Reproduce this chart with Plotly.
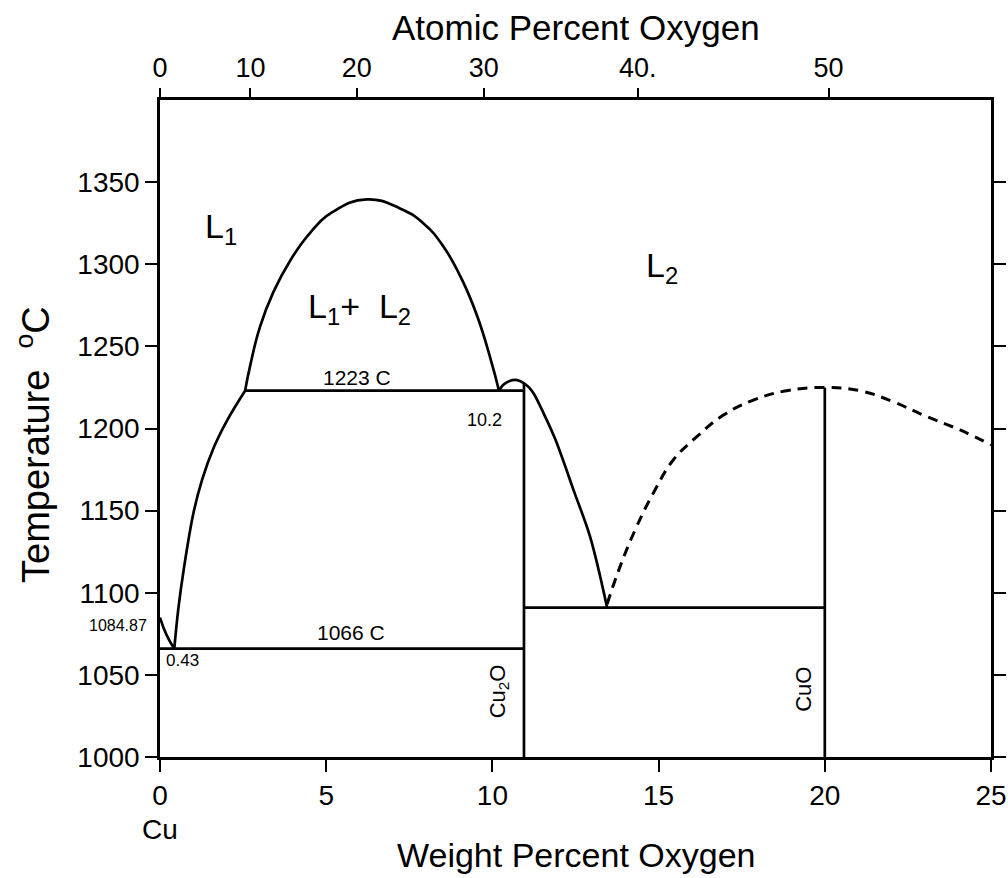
import plotly.graph_objects as go

# ---- Cu–O phase diagram data (weight % O, temperature in °C) ----
# Cu-rich liquidus from the melting point of Cu down to the eutectic
cu_liq_x = [0.0, 0.12, 0.28, 0.43]
cu_liq_t = [1084.87, 1078.0, 1071.0, 1066.0]

# L1 liquidus from the eutectic up to the monotectic
l1_liq_x = [0.43, 0.55, 0.72, 1.0, 1.27, 1.63, 2.02, 2.56]
l1_liq_t = [1066.0, 1090.0, 1115.0, 1148.0, 1169.0, 1189.0, 1205.0, 1223.0]

# L1 + L2 miscibility gap
dome_x = [2.56, 2.71, 3.01, 3.41, 3.91, 4.51, 5.21, 6.22, 7.22, 7.92, 8.52, 9.1, 9.55, 9.95, 10.2]
dome_t = [1223.0, 1238.0, 1262.0, 1283.0, 1302.0, 1319.0, 1332.0, 1339.5, 1334.0, 1325.0, 1311.0, 1290.0, 1268.0, 1242.0, 1223.0]

# Cu2O liquidus (small maximum, then down to the Cu2O–CuO eutectic)
cu2o_liq_x = [10.2, 10.32, 10.5, 10.75, 10.95, 11.1, 11.25, 11.5, 11.88, 12.45, 12.94, 13.45]
cu2o_liq_t = [1223.0, 1226.5, 1228.8, 1229.5, 1227.5, 1225.0, 1221.0, 1211.0, 1194.0, 1162.0, 1134.0, 1091.0]

# CuO liquidus (dashed, uncertain)
cuo_liq_x = [13.45, 13.84, 14.34, 14.84, 15.44, 16.15, 16.95, 17.85, 18.85, 20.0, 21.06, 22.06, 23.07, 24.07, 25.0]
cuo_liq_t = [1093.0, 1115.9, 1140.3, 1160.6, 1180.8, 1195.0, 1208.2, 1217.3, 1223.0, 1225.0, 1223.0, 1216.3, 1207.2, 1199.1, 1190.0]

# Invariant temperatures and compound compositions
t_eutectic = 1066.0
t_monotectic = 1223.0
t_oxide_eutectic = 1091.0
x_monotectic_left = 2.56
x_cu2o = 10.95
x_cuo = 20.0
t_cu2o_top = 1227.5
t_cuo_top = 1225.0
t_floor = 1000.0

# Axis ticks
x_ticks = [0, 5, 10, 15, 20, 25]
y_ticks = [1000, 1050, 1100, 1150, 1200, 1250, 1300, 1350]
at_pct_ticks = [0, 10, 20, 30, 40, 50]
at_pct_text = ["0", "10", "20", "30", "40.", "50"]

M_O, M_CU = 16.00, 63.546


def atomic_to_weight(a):
    return 100.0 * M_O * a / (M_O * a + M_CU * (100.0 - a))


top_tickvals = [atomic_to_weight(a) for a in at_pct_ticks]

BLACK = "#000000"
FONT = "Liberation Sans, Arial, sans-serif"
LW = 2.7

fig = go.Figure()


def add_line(xs, ys, dash=None, width=LW, shape="linear", smoothing=1.0):
    fig.add_trace(go.Scatter(
        x=xs, y=ys, mode="lines",
        line=dict(color=BLACK, width=width, dash=dash, shape=shape, smoothing=smoothing),
        hoverinfo="skip", showlegend=False,
    ))


add_line(cu_liq_x, cu_liq_t, shape="spline")
add_line(l1_liq_x, l1_liq_t, shape="spline")
add_line(dome_x, dome_t, shape="spline", smoothing=1.3)
add_line(cu2o_liq_x, cu2o_liq_t, shape="spline")
add_line(cuo_liq_x, cuo_liq_t, dash="10px,7px", width=3, shape="spline", smoothing=1.2)

# isotherms
add_line([0.0, x_cu2o], [t_eutectic, t_eutectic])
add_line([x_monotectic_left, x_cu2o], [t_monotectic, t_monotectic])
add_line([x_cu2o, x_cuo], [t_oxide_eutectic, t_oxide_eutectic])
# compound lines
add_line([x_cu2o, x_cu2o], [t_floor, t_cu2o_top])
add_line([x_cuo, x_cuo], [t_floor, t_cuo_top])

# invisible trace carrying the top (atomic %) axis
fig.add_trace(go.Scatter(x=[0, 25], y=[1000, 1000], xaxis="x2", mode="lines",
                         line=dict(width=0), hoverinfo="skip", showlegend=False))

axis_common = dict(showgrid=False, zeroline=False, showline=True, linecolor=BLACK,
                   linewidth=2.5, ticks="outside", ticklen=12, tickwidth=2.2,
                   tickcolor=BLACK, automargin=False)

fig.update_layout(
    width=1008, height=878,
    margin=dict(l=160, r=17, t=100, b=121),
    paper_bgcolor="white", plot_bgcolor="white",
    font=dict(family=FONT, color=BLACK),
    xaxis=dict(range=[0, 25], tickvals=x_ticks, ticktext=[str(v) for v in x_ticks],
               tickfont=dict(size=28, family=FONT), **axis_common),
    xaxis2=dict(range=[0, 25], overlaying="x", side="top", tickvals=top_tickvals,
                ticktext=at_pct_text, tickfont=dict(size=27, family=FONT),
                **{**axis_common, "ticklen": 9}),
    yaxis=dict(range=[1000, 1400], tickvals=y_ticks, ticktext=[str(v) for v in y_ticks],
               tickfont=dict(size=28, family=FONT), mirror="ticks", **axis_common),
)

ann = []


def label(text, x, y, size, xref="x", yref="y", angle=0, **kw):
    ann.append(dict(text=text, x=x, y=y, xref=xref, yref=yref, showarrow=False,
                    textangle=angle, font=dict(size=size, family=FONT, color=BLACK),
                    xanchor="center", yanchor="middle", **kw))


label("L<sub>1</sub>", 1.85, 1322, 34)
label("L<sub>1</sub>+  L<sub>2</sub>", 6.0, 1273, 34)
label("L<sub>2</sub>", 15.1, 1298, 34)
label("1223 C", 5.93, 1231, 21)
label("10.2", 9.75, 1205, 18)
label("1084.87", -0.051, 0.2, 16, xref="paper", yref="paper")
label("0.43", 0.68, 1059, 17)
label("1066 C", 5.75, 1076, 21)
label("Cu<sub>2</sub>O", 10.2, 1040, 22, angle=-90)
label("CuO", 19.35, 1041, 22, angle=-90)
label("Cu", 0.0, -0.111, 28, xref="paper", yref="paper")
label("Weight Percent Oxygen", 0.5, -0.149, 34, xref="paper", yref="paper")
label("Atomic Percent Oxygen", 0.5, 1.111, 35, xref="paper", yref="paper")
label("Temperature  <sup>o</sup>C", -0.152, 0.476, 38, xref="paper", yref="paper", angle=-90)

fig.update_layout(annotations=ann)

fig.write_html("out.html")
